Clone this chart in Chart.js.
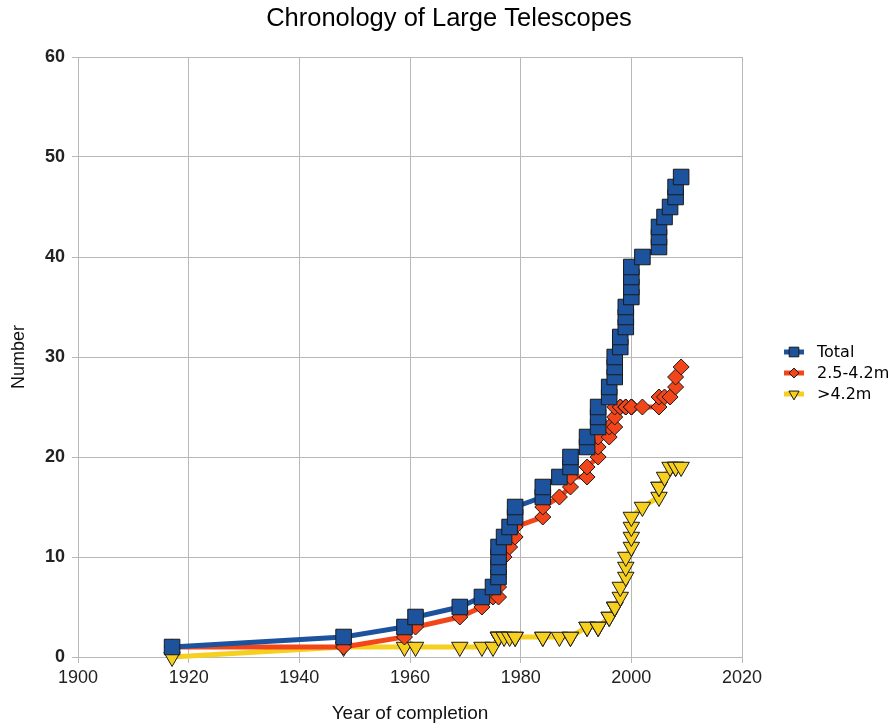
<!DOCTYPE html>
<html>
<head>
<meta charset="utf-8">
<title>Chronology of Large Telescopes</title>
<script src="https://cdn.jsdelivr.net/npm/chart.js@4.4.0/dist/chart.umd.min.js"></script>
<style>
  body { margin: 0; background: #fff; }
</style>
</head>
<body>
<canvas id="myChart" width="896" height="728"></canvas>
<script>

// year of completion of each telescope (one entry per point)
const years = [1917, 1948, 1959, 1961, 1969, 1973, 1975, 1976, 1976, 1976,
               1976, 1977, 1978, 1979, 1979, 1984, 1984, 1987, 1989, 1989,
               1992, 1992, 1994, 1994, 1994, 1996, 1996, 1997, 1997, 1997,
               1998, 1998, 1999, 1999, 1999, 2000, 2000, 2000, 2000, 2002,
               2005, 2005, 2005, 2006, 2007, 2008, 2008, 2009];

const totalCounts = [1, 2, 3, 4, 5, 6, 7, 8, 9, 10,
                     11, 12, 13, 14, 15, 16, 17, 18, 19, 20,
                     21, 22, 23, 24, 25, 26, 27, 28, 29, 30,
                     31, 32, 33, 34, 35, 36, 37, 38, 39, 40,
                     41, 42, 43, 44, 45, 46, 47, 48];

const midCounts = [1, 1, 2, 3, 4, 5, 6, 6, 7, 8,
                   9, 10, 11, 12, 13, 14, 15, 16, 17, 18,
                   18, 19, 20, 21, 22, 22, 23, 23, 24, 25,
                   25, 25, 25, 25, 25, 25, 25, 25, 25, 25,
                   25, 25, 26, 26, 26, 27, 28, 29];

const largeCounts = [0, 1, 1, 1, 1, 1, 1, 2, 2, 2,
                     2, 2, 2, 2, 2, 2, 2, 2, 2, 2,
                     3, 3, 3, 3, 3, 4, 4, 5, 5, 5,
                     6, 7, 8, 9, 10, 11, 12, 13, 14, 15,
                     16, 17, 17, 18, 19, 19, 19, 19];

const seriesNames = ['Total', '2.5-4.2m', '>4.2m'];

const blue = '#1d529d';
const orange = '#f2461a';
const yellow = '#f7cf1e';
const edge = '#1a1a1a';

function toPoints(vals) {
  return years.map(function (yr, i) { return { x: yr, y: vals[i] }; });
}

const styles = [
  { color: blue, shape: 'rect', radius: 11, rot: 0 },
  { color: orange, shape: 'rectRot', radius: 8, rot: 0 },
  { color: yellow, shape: 'triangle', radius: 9.5, rot: 180 }
];

function makeSet(idx, vals) {
  const s = styles[idx];
  return {
    label: seriesNames[idx],
    data: toPoints(vals),
    borderColor: s.color,
    backgroundColor: s.color,
    borderWidth: 5,
    tension: 0,
    pointStyle: s.shape,
    pointRadius: s.radius,
    pointRotation: s.rot,
    pointBackgroundColor: s.color,
    pointBorderColor: edge,
    pointBorderWidth: 1,
    clip: false
  };
}

// title + legend drawn by hand so the plot area lines up
const extras = {
  id: 'extras',
  afterDraw: function (chart) {
    const ctx = chart.ctx;
    ctx.save();
    ctx.fillStyle = '#000';
    ctx.font = '25.5px "Liberation Sans", Arial, sans-serif';
    ctx.textAlign = 'center';
    ctx.textBaseline = 'middle';
    ctx.fillText('Chronology of Large Telescopes', 449, 19);

    ctx.font = '16px "DejaVu Sans", sans-serif';
    ctx.textAlign = 'left';
    for (let i = 0; i < seriesNames.length; i++) {
      const y = 352 + i * 21;
      const s = styles[i];
      ctx.strokeStyle = s.color;
      ctx.lineWidth = 5;
      ctx.beginPath();
      ctx.moveTo(784, y);
      ctx.lineTo(804, y);
      ctx.stroke();
      ctx.fillStyle = s.color;
      ctx.strokeStyle = edge;
      ctx.lineWidth = 1;
      Chart.helpers.drawPoint(ctx, {
        pointStyle: s.shape,
        radius: s.radius * 0.62,
        rotation: s.rot,
        borderWidth: 1
      }, 794, y);
      ctx.fillStyle = '#000';
      ctx.fillText(seriesNames[i], 817, y + 1);
    }
    ctx.restore();
  }
};

const config = {
  type: 'line',
  data: {
    datasets: [
      makeSet(0, totalCounts),
      makeSet(1, midCounts),
      makeSet(2, largeCounts)
    ]
  },
  options: {
    responsive: false,
    animation: false,
    layout: { padding: { top: 57, right: 154, bottom: 0, left: 0 } },
    plugins: {
      legend: { display: false },
      title: { display: false },
      tooltip: { enabled: false }
    },
    scales: {
      x: {
        type: 'linear',
        min: 1900,
        max: 2020,
        afterFit: function (s) { s.height = 71; },
        ticks: {
          stepSize: 20,
          color: '#222',
          padding: 4,
          font: { family: 'Liberation Sans', size: 18 },
          callback: function (v) { return String(v); }
        },
        grid: { color: '#b8b8b8', lineWidth: 1, tickLength: 6 },
        border: { color: '#b8b8b8' },
        title: {
          display: true,
          text: 'Year of completion',
          color: '#111',
          font: { family: 'Liberation Sans', size: 19 },
          padding: { top: 0, bottom: 3 }
        }
      },
      y: {
        min: 0,
        max: 60,
        afterFit: function (s) { s.width = 78; },
        ticks: {
          stepSize: 10,
          color: '#222',
          padding: 7,
          font: { family: 'Liberation Sans', size: 18, weight: 'bold' }
        },
        grid: { color: '#b8b8b8', lineWidth: 1, tickLength: 6 },
        border: { color: '#b8b8b8' },
        title: {
          display: true,
          text: 'Number',
          color: '#111',
          font: { family: 'Liberation Sans', size: 18 },
          padding: { top: 8, bottom: 0 }
        }
      }
    }
  },
  plugins: [extras]
};

const ctx = document.getElementById('myChart');
new Chart(ctx, config);

</script>
</body>
</html>
